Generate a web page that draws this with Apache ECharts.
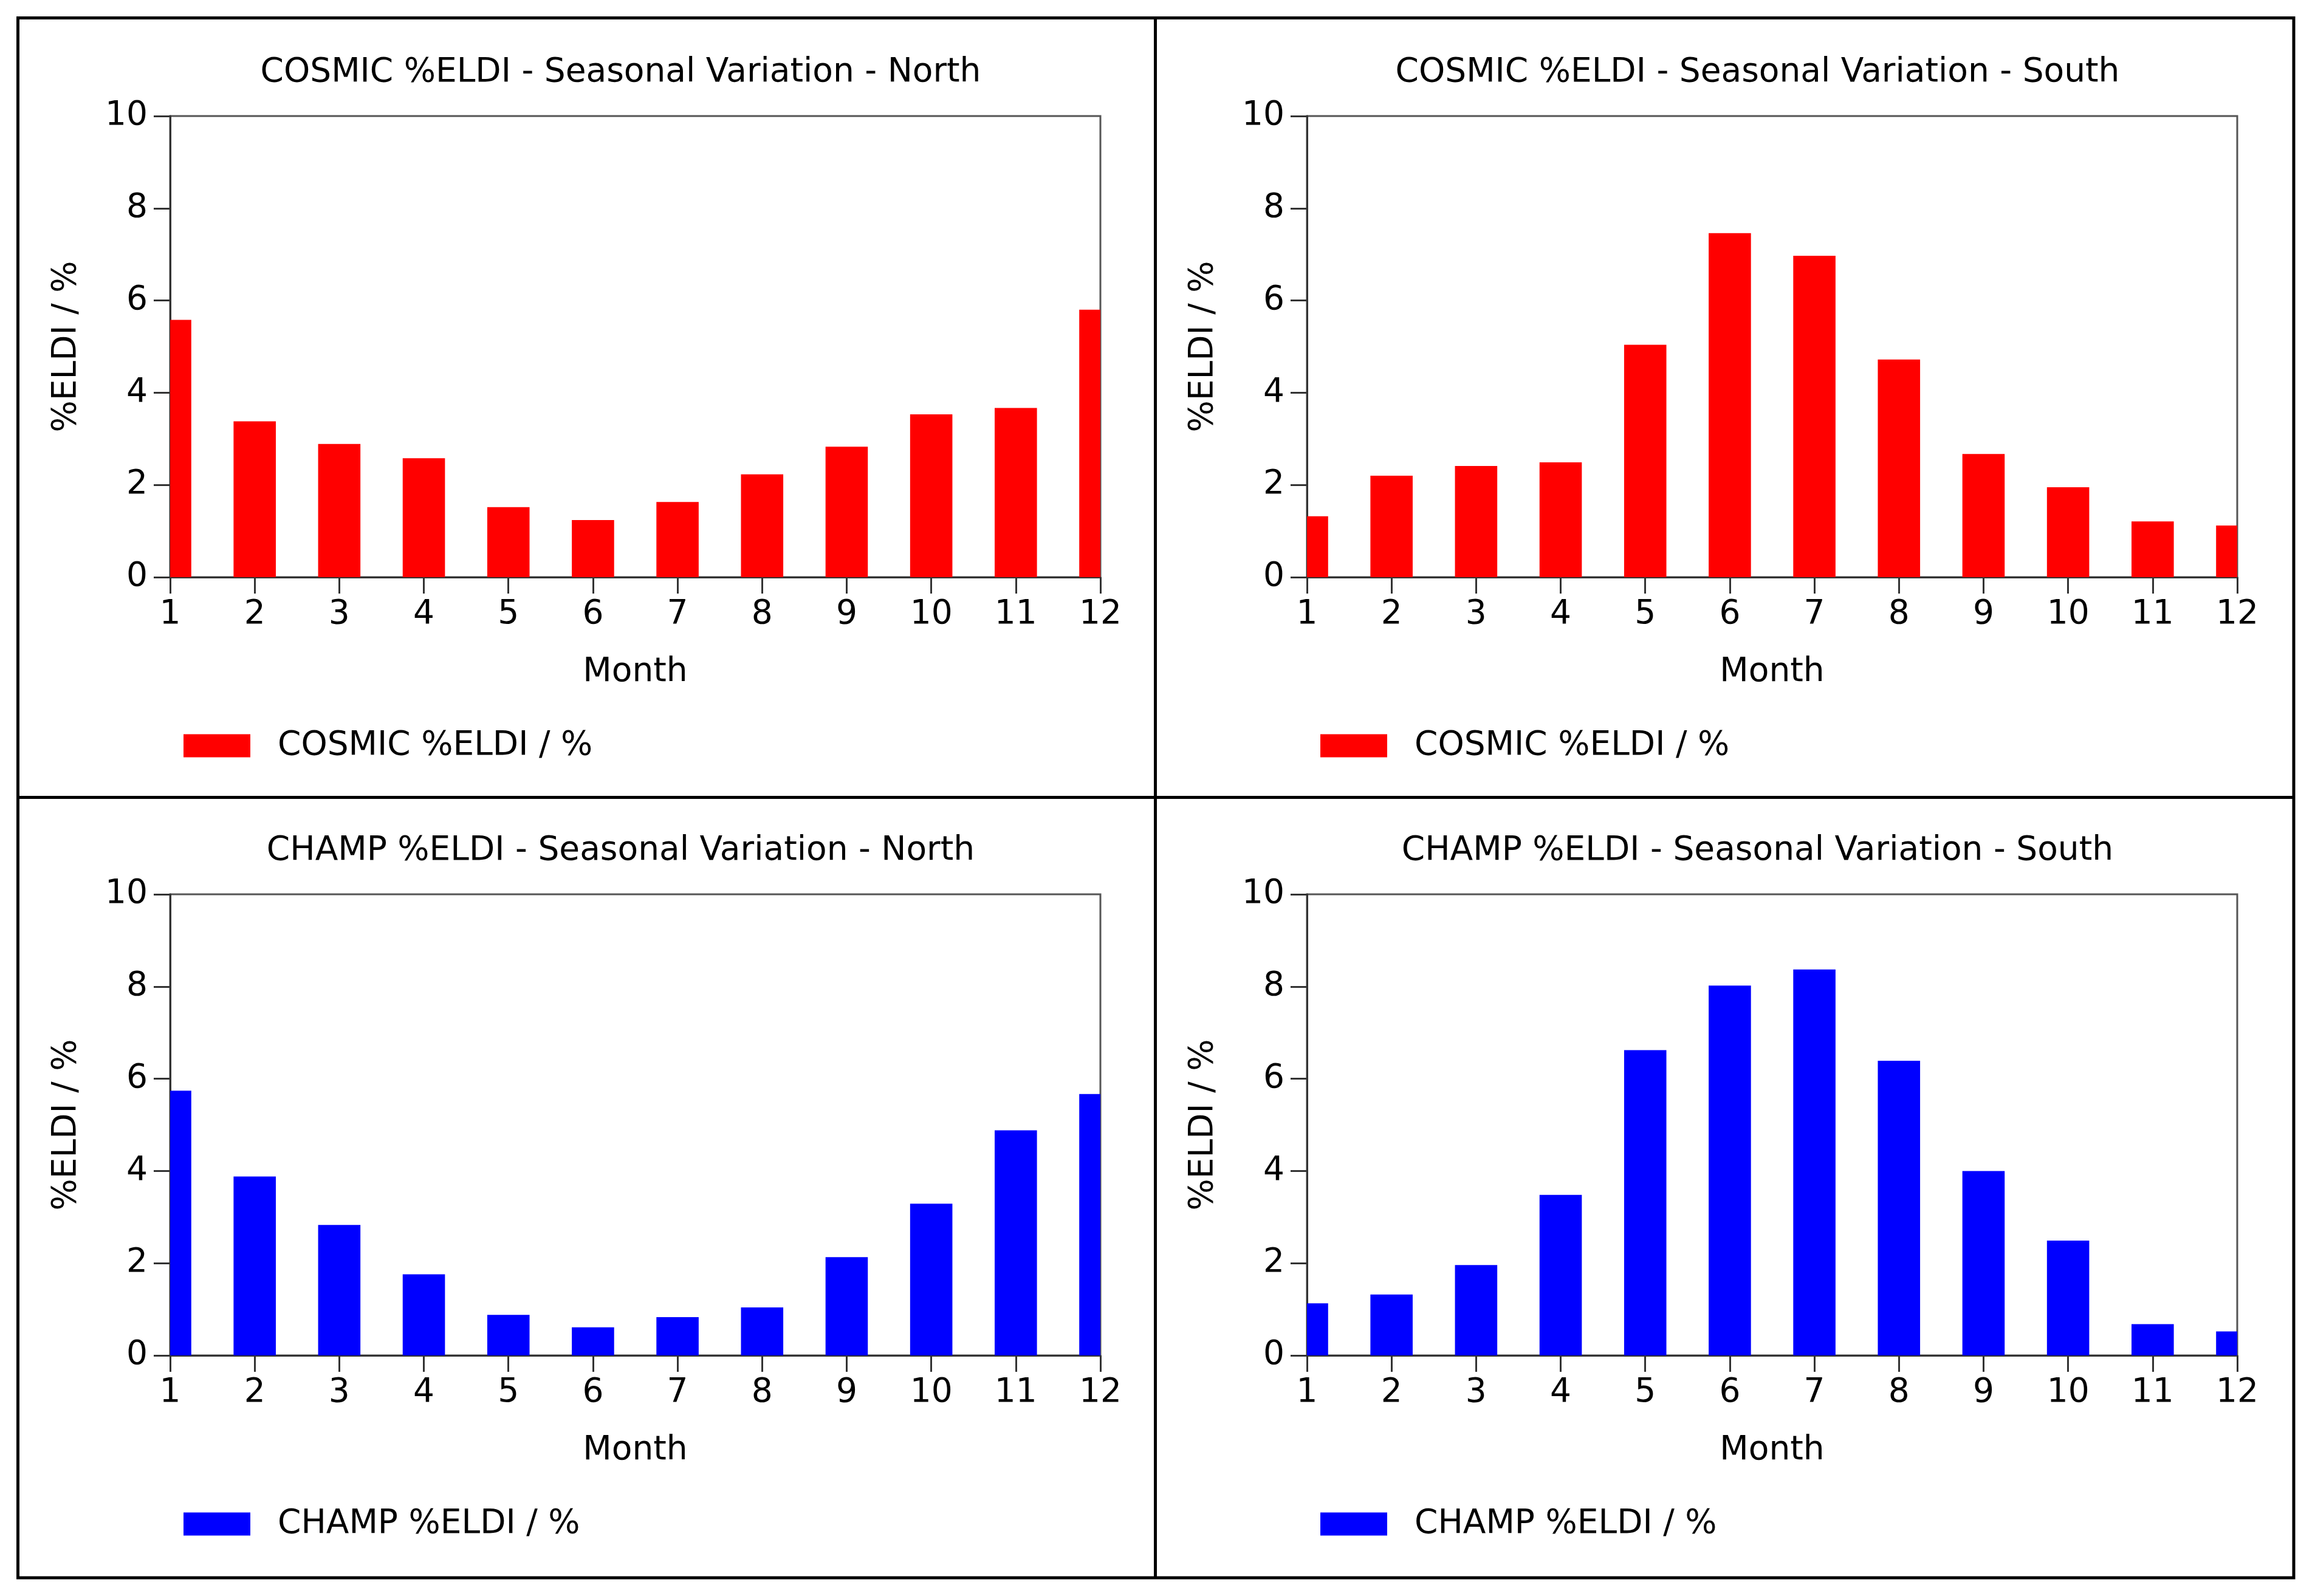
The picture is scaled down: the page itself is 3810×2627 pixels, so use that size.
<!DOCTYPE html>
<html>
<head>
<meta charset="utf-8">
<script src="https://cdn.jsdelivr.net/npm/echarts@6/dist/echarts.min.js"></script>
<style>
html,body{margin:0;padding:0;background:#fff;}
#chart{width:3810px;height:2627px;}
</style>
</head>
<body>
<div id="chart"></div>
<script>
const months = [1, 2, 3, 4, 5, 6, 7, 8, 9, 10, 11, 12];
const cosmicNorth = [5.58, 3.38, 2.89, 2.58, 1.52, 1.24, 1.63, 2.23, 2.83, 3.53, 3.67, 5.80];
const cosmicSouth = [1.32, 2.20, 2.41, 2.49, 5.04, 7.46, 6.97, 4.72, 2.67, 1.95, 1.21, 1.12];
const champNorth = [5.74, 3.88, 2.83, 1.76, 0.88, 0.61, 0.83, 1.04, 2.13, 3.29, 4.88, 5.67];
const champSouth = [1.13, 1.32, 1.96, 3.48, 6.62, 8.02, 8.37, 6.39, 4.00, 2.49, 0.68, 0.52];
const titles = [
  'COSMIC %ELDI - Seasonal Variation - North',
  'COSMIC %ELDI - Seasonal Variation - South',
  'CHAMP %ELDI - Seasonal Variation - North',
  'CHAMP %ELDI - Seasonal Variation - South'
];
const seriesNames = ['COSMIC %ELDI / %', 'COSMIC %ELDI / %', 'CHAMP %ELDI / %', 'CHAMP %ELDI / %'];
const xName = 'Month';
const yName = '%ELDI / %';

const panelData = [cosmicNorth, cosmicSouth, champNorth, champSouth];
const colors = ['#ff0000', '#ff0000', '#0000ff', '#0000ff'];

const FONT = 'DejaVu Sans';
const FS = 55;
const gridLefts = [280, 2151, 280, 2151];
const gridTops = [191, 191, 1472, 1472];
const GW = 1531, GH = 759;

const chart = echarts.init(document.getElementById('chart'), null, {renderer: 'canvas'});

function renderBar(params, api) {
  const x = api.value(0), y = api.value(1);
  const base = api.coord([x, 0]);
  const top = api.coord([x, y]);
  const w = api.size([1, 0])[0] * 0.5;
  const rect = {x: base[0] - w / 2, y: top[1], width: w, height: base[1] - top[1]};
  const cs = params.coordSys;
  const clipped = echarts.graphic.clipRectByRect(rect, {x: cs.x, y: cs.y, width: cs.width, height: cs.height});
  if (!clipped) return null;
  return {type: 'rect', shape: clipped, style: api.style()};
}

const grids = [], xAxes = [], yAxes = [], series = [], titleArr = [], legends = [];
for (let i = 0; i < 4; i++) {
  grids.push({
    left: gridLefts[i], top: gridTops[i], width: GW, height: GH,
    show: true, borderColor: '#555', borderWidth: 3, backgroundColor: 'transparent'
  });
  xAxes.push({
    type: 'value', gridIndex: i, min: 1, max: 12, interval: 1,
    name: xName, nameLocation: 'middle', nameGap: 129,
    nameTextStyle: {fontFamily: FONT, fontSize: FS, color: '#000'},
    axisLine: {show: true, onZero: false, lineStyle: {color: '#333', width: 3}},
    axisTick: {show: true, length: 27, lineStyle: {color: '#333', width: 3}},
    axisLabel: {fontFamily: FONT, fontSize: FS, color: '#000', margin: 34},
    splitLine: {show: false}
  });
  yAxes.push({
    type: 'value', gridIndex: i, min: 0, max: 10, interval: 2,
    name: yName, nameLocation: 'middle', nameGap: 143,
    nameTextStyle: {fontFamily: FONT, fontSize: FS, color: '#000'},
    axisLine: {show: true, lineStyle: {color: '#333', width: 3}},
    axisTick: {show: true, length: 27, lineStyle: {color: '#333', width: 3}},
    axisLabel: {fontFamily: FONT, fontSize: FS, color: '#000', margin: 37},
    splitLine: {show: false}
  });
  series.push({
    type: 'custom', name: seriesNames[i], xAxisIndex: i, yAxisIndex: i,
    renderItem: renderBar,
    encode: {x: 0, y: 1},
    itemStyle: {color: colors[i]},
    data: months.map((m, k) => [m, panelData[i][k]])
  });
  titleArr.push({
    text: titles[i], left: gridLefts[i] + GW / 2 - 24, top: gridTops[i] - 71,
    textAlign: 'center', textVerticalAlign: 'middle', padding: 0,
    textStyle: {fontFamily: FONT, fontSize: FS, fontWeight: 'normal', color: '#000'}
  });
  legends.push({
    data: [{name: seriesNames[i], icon: 'rect'}],
    left: gridLefts[i] + 22, top: gridTops[i] + 1037 - 28, padding: 0,
    itemWidth: 110, itemHeight: 38,
    selectedMode: false,
    textStyle: {fontFamily: FONT, fontSize: FS, color: '#000', padding: [0, 0, 0, 40]}
  });
}

const B = 5;
const option = {
  backgroundColor: '#fff',
  animation: false,
  title: titleArr,
  legend: legends,
  grid: grids,
  xAxis: xAxes,
  yAxis: yAxes,
  series: series,
  graphic: [
    {type: 'rect', shape: {x: 29.5, y: 29.5, width: 3775 - 29.5, height: 2597 - 29.5},
     style: {fill: 'none', stroke: '#000', lineWidth: B}, silent: true},
    {type: 'line', shape: {x1: 1901.5, y1: 29.5, x2: 1901.5, y2: 2597},
     style: {stroke: '#000', lineWidth: B}, silent: true},
    {type: 'line', shape: {x1: 29.5, y1: 1312.5, x2: 3775, y2: 1312.5},
     style: {stroke: '#000', lineWidth: B}, silent: true}
  ]
};
chart.setOption(option);
</script>
</body>
</html>
